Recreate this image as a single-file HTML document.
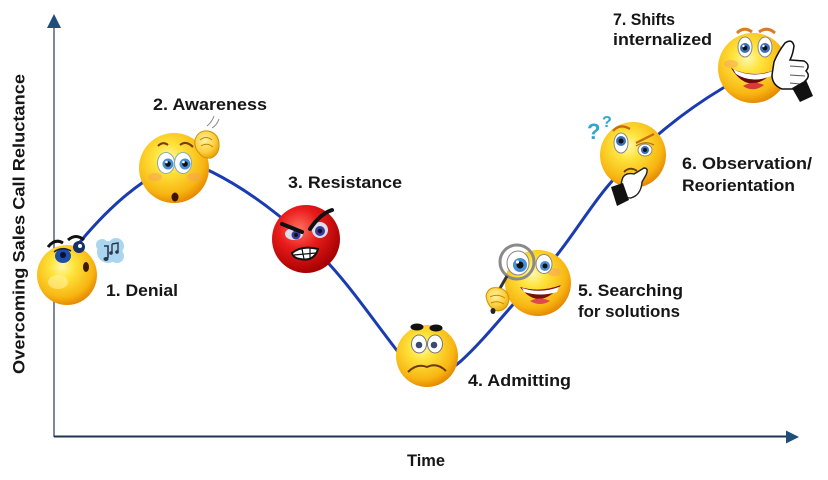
<!DOCTYPE html>
<html><head><meta charset="utf-8"><style>
html,body{margin:0;padding:0;background:#fff;}
svg{display:block;}
text{font-family:"Liberation Sans",Arial,sans-serif;font-weight:bold;fill:#161616;}
</style></head><body>
<svg width="828" height="480" viewBox="0 0 828 480" xmlns="http://www.w3.org/2000/svg">
<defs>
<radialGradient id="yg" cx="0.42" cy="0.36" r="0.66">
<stop offset="0" stop-color="#fff8b0"/><stop offset="0.3" stop-color="#ffe43c"/><stop offset="0.78" stop-color="#f7b512"/><stop offset="1" stop-color="#e58600"/>
</radialGradient>
<radialGradient id="rg" cx="0.4" cy="0.35" r="0.66">
<stop offset="0" stop-color="#ff7060"/><stop offset="0.45" stop-color="#ea1c1c"/><stop offset="1" stop-color="#a60000"/>
</radialGradient>
<radialGradient id="hg" cx="0.4" cy="0.35" r="0.7">
<stop offset="0" stop-color="#fff2a0"/><stop offset="0.6" stop-color="#fcd040"/><stop offset="1" stop-color="#e8a000"/>
</radialGradient>
</defs>
<rect width="828" height="480" fill="#fff"/>

<!-- axes -->
<line x1="54" y1="26" x2="54" y2="437" stroke="#5b6a8a" stroke-width="1.6"/>
<polygon points="54,14 47,28 61,28" fill="#1f4e79"/>
<line x1="54" y1="436.5" x2="788" y2="436.5" stroke="#1f3550" stroke-width="2"/>
<polygon points="799,437 786,430.5 786,443.5" fill="#1f4e79"/>

<!-- curve -->
<path d="M80,242 C100.7,217.2 121.3,197.5 142,183 C154.7,174.1 167.3,163 180,163 C190.7,163 201.3,166.7 212,172 C234,183 256,197.4 278,215 C295.3,228.9 312.7,246 330,265 C351.7,288.8 373.3,319.8 395,348 C406,362.3 417,374 428,374 C439,374 450,370.9 461,361 C477.3,346.3 493.7,326.8 510,308 C525.7,290 541.3,274.6 557,255 C573.7,234.1 590.3,207 607,187 C624.7,165.8 642.3,148 660,133 C681,115.2 702,100.6 723,88 C732.7,82.2 742.3,75.8 752,70" fill="none" stroke="#1a3cb0" stroke-width="3"/>

<!-- 1. Denial -->
<g>
<circle cx="67" cy="275" r="30" fill="url(#yg)"/>
<path d="M48,247 Q55,238 63,243" fill="none" stroke="#111" stroke-width="3"/>
<path d="M68,240 Q76,233 84,240" fill="none" stroke="#111" stroke-width="3"/>
<ellipse cx="63" cy="256" rx="8" ry="7" fill="#1d4fa8"/>
<circle cx="63" cy="255" r="3" fill="#0a1030"/>
<path d="M54,252 Q62,246 71,251" fill="none" stroke="#222" stroke-width="1.6"/>
<ellipse cx="79" cy="247" rx="6" ry="6" fill="#17306a"/>
<circle cx="80" cy="246" r="2" fill="#fff"/>
<ellipse cx="86" cy="267" rx="3" ry="5" fill="#3a1a00"/>
<ellipse cx="58" cy="282" rx="10" ry="7" fill="#fff6b0" opacity="0.5"/>
<!-- music cloud -->
<circle cx="108" cy="252" r="11" fill="#a9d6ee"/>
<circle cx="116" cy="246" r="8" fill="#a9d6ee"/>
<circle cx="102" cy="245" r="6" fill="#a9d6ee"/>
<circle cx="117" cy="256" r="7" fill="#a9d6ee"/>
<path d="M104,246 L108,246 L108,258" fill="none" stroke="#2a3550" stroke-width="1.6"/>
<ellipse cx="106" cy="259" rx="2.5" ry="2" fill="#2a3550"/>
<path d="M112,244 L118,243 L118,251 M112,244 L112,253" fill="none" stroke="#2a3550" stroke-width="1.4"/>
<circle cx="111" cy="253" r="1.8" fill="#2a3550"/><circle cx="117" cy="252" r="1.8" fill="#2a3550"/>
</g>

<!-- 2. Awareness -->
<g>
<circle cx="174" cy="168" r="35" fill="url(#yg)"/>
<ellipse cx="155" cy="177" rx="7" ry="4" fill="#f7a060" opacity="0.5"/>
<ellipse cx="194" cy="177" rx="7" ry="4" fill="#f7a060" opacity="0.5"/>
<path d="M158,146 Q163,141 168,145" fill="none" stroke="#7a3a10" stroke-width="2"/>
<path d="M180,145 Q186,140 193,147" fill="none" stroke="#7a3a10" stroke-width="2"/>
<ellipse cx="166" cy="163" rx="8.5" ry="10.5" fill="#fff" stroke="#8aa" stroke-width="1"/>
<ellipse cx="183" cy="163" rx="8.5" ry="10.5" fill="#fff" stroke="#8aa" stroke-width="1"/>
<circle cx="168" cy="164" r="5.5" fill="#4a8ed6"/><circle cx="185" cy="164" r="5.5" fill="#4a8ed6"/>
<circle cx="168" cy="164" r="2.8" fill="#111"/><circle cx="185" cy="164" r="2.8" fill="#111"/>
<circle cx="166.5" cy="162" r="1.3" fill="#fff"/><circle cx="183.5" cy="162" r="1.3" fill="#fff"/>
<ellipse cx="175" cy="197" rx="3.5" ry="4.5" fill="#3a1400"/>
<!-- hand -->
<path d="M195,140 Q198,130 208,131 Q218,133 219,143 Q220,154 211,158 Q203,159 199,153 Q194,148 195,140 Z" fill="url(#hg)" stroke="#d39000" stroke-width="1"/>
<path d="M200,140 Q206,135 212,140 M201,146 Q207,142 213,147" fill="none" stroke="#c88400" stroke-width="1"/>
<path d="M207,126 Q212,122 214,116 M212,128 Q217,125 219,119" fill="none" stroke="#888" stroke-width="1"/>
</g>

<!-- 3. Resistance -->
<g>
<circle cx="306" cy="239" r="34" fill="url(#rg)"/>
<ellipse cx="294" cy="234" rx="9" ry="6" fill="#dde" />
<ellipse cx="320" cy="230" rx="8" ry="8" fill="#dde"/>
<circle cx="296" cy="235" r="4.5" fill="#3a3aa0"/><circle cx="320" cy="231" r="5" fill="#3a3aa0"/>
<circle cx="296" cy="235" r="2" fill="#111"/><circle cx="320" cy="231" r="2.2" fill="#111"/>
<path d="M282,224 L302,232" stroke="#111" stroke-width="4" stroke-linecap="round"/>
<path d="M310,229 Q320,214 332,210" fill="none" stroke="#111" stroke-width="4" stroke-linecap="round"/>
<path d="M292,253 Q302,245 318,249 Q314,262 300,259 Q293,258 292,253 Z" fill="#fff" stroke="#111" stroke-width="2"/>
<path d="M294,255 L316,253 M302,249 L304,259 M310,248 L310,260" stroke="#111" stroke-width="1.2"/>
</g>

<!-- 4. Admitting -->
<g>
<circle cx="427" cy="356" r="31" fill="url(#yg)"/>
<ellipse cx="417" cy="327" rx="6.5" ry="3.5" fill="#111"/>
<ellipse cx="436" cy="328" rx="6.5" ry="3.5" fill="#111"/>
<ellipse cx="419" cy="344" rx="7.5" ry="9" fill="#fff" stroke="#777" stroke-width="1"/>
<ellipse cx="435" cy="344" rx="7.5" ry="9" fill="#fff" stroke="#777" stroke-width="1"/>
<circle cx="419" cy="345" r="3.3" fill="#3b4a70"/><circle cx="434" cy="345" r="3.3" fill="#3b4a70"/>
<path d="M408,372 Q417,363 427,367 Q437,362 446,371" fill="none" stroke="#6a3a10" stroke-width="2"/>
</g>

<!-- 5. Searching -->
<g>
<circle cx="538" cy="283" r="33" fill="url(#yg)"/>
<ellipse cx="554" cy="272" rx="7" ry="4" fill="#f7a060" opacity="0.5"/>
<ellipse cx="544" cy="264" rx="8" ry="9.5" fill="#fff" stroke="#888" stroke-width="1"/>
<circle cx="545" cy="266" r="5" fill="#4a8ed6"/><circle cx="545" cy="266" r="2.5" fill="#111"/>
<ellipse cx="518" cy="263" rx="11" ry="12" fill="#fff" stroke="#888" stroke-width="1"/>
<circle cx="520" cy="265" r="7" fill="#4a8ed6"/><circle cx="520" cy="265" r="3.5" fill="#111"/>
<circle cx="517.5" cy="262" r="1.6" fill="#fff"/>
<circle cx="517" cy="262" r="17" fill="none" stroke="#8a8a8a" stroke-width="3"/>
<path d="M507,276 L499,290" stroke="#333" stroke-width="3"/>
<path d="M520,287 Q539,312 561,285 Q540,293 520,287 Z" fill="#7a0f0f"/>
<path d="M522,288 Q540,294 559,287 L557,292 Q540,297 524,292 Z" fill="#fff"/>
<path d="M530,301 Q540,296 550,301 Q540,307 530,301 Z" fill="#e0484a"/>
<path d="M486,296 Q488,286 499,288 Q508,290 509,299 Q508,310 498,311 Q488,309 486,296 Z" fill="url(#hg)" stroke="#d39000" stroke-width="1"/>
<path d="M490,297 Q497,293 505,298 M491,303 Q497,300 504,304" fill="none" stroke="#c88400" stroke-width="1"/>
<ellipse cx="493" cy="311" rx="2.5" ry="3" fill="#222"/>
</g>

<!-- 6. Observation -->
<g>
<circle cx="633" cy="155" r="33" fill="url(#yg)"/>
<path d="M613,131 Q620,123 630,129" fill="none" stroke="#c86a10" stroke-width="2.2"/>
<path d="M636,143 L654,134" fill="none" stroke="#c86a10" stroke-width="2.2"/>
<ellipse cx="621" cy="143" rx="7" ry="10" fill="#fff" stroke="#888" stroke-width="1"/>
<circle cx="621" cy="141" r="5" fill="#3a6fb8"/><circle cx="621" cy="141" r="2.5" fill="#111"/>
<ellipse cx="645" cy="150" rx="7" ry="6" fill="#fff" stroke="#888" stroke-width="1"/>
<circle cx="645" cy="150" r="4" fill="#3a6fb8"/><circle cx="645" cy="150" r="2" fill="#111"/>
<path d="M636,146 Q645,140 654,145" fill="none" stroke="#b87010" stroke-width="1.3"/>
<path d="M624,172 Q630,166 637,171" fill="none" stroke="#6a3a10" stroke-width="1.8"/>
<path d="M622,180 Q624,172 634,174 L644,168 Q649,168 646,175 L642,182 Q641,195 631,198 Q622,198 620,190 Z" fill="#fff" stroke="#222" stroke-width="1.4"/>
<path d="M611,187 L623,183 L629,200 L617,206 Z" fill="#111"/>
<text x="587" y="139" style="fill:#2fa6cf;font-size:22px">?</text>
<text x="602" y="127" style="fill:#2fa6cf;font-size:16px">?</text>
</g>

<!-- 7. Shifts internalized -->
<g>
<circle cx="753" cy="68" r="35" fill="url(#yg)"/>
<ellipse cx="731" cy="64" rx="7" ry="4" fill="#f7a060" opacity="0.5"/>
<path d="M737,33 Q744,26 752,32" fill="none" stroke="#e07a20" stroke-width="3"/>
<path d="M759,32 Q767,26 775,33" fill="none" stroke="#e07a20" stroke-width="3"/>
<ellipse cx="745" cy="47" rx="7" ry="10" fill="#fff" stroke="#888" stroke-width="1"/>
<ellipse cx="765" cy="47" rx="7" ry="10" fill="#fff" stroke="#888" stroke-width="1"/>
<circle cx="745" cy="48" r="5" fill="#3a6fb8"/><circle cx="765" cy="48" r="5" fill="#3a6fb8"/>
<circle cx="745" cy="48" r="2.4" fill="#111"/><circle cx="765" cy="48" r="2.4" fill="#111"/>
<circle cx="743.5" cy="46" r="1.2" fill="#fff"/><circle cx="763.5" cy="46" r="1.2" fill="#fff"/>
<path d="M731,68 Q750,98 775,70 Q752,79 731,68 Z" fill="#6a0a0a"/>
<path d="M733,69 Q752,79 773,71 L771,76 Q752,84 736,74 Z" fill="#fff"/>
<path d="M743,86 Q753,80 764,85 Q753,93 743,86 Z" fill="#d83a3a"/>
<path d="M774,62 Q778,52 785,43 Q792,38 794,46 Q793,54 790,60 L804,61 Q811,65 806,71 Q811,76 805,81 Q807,88 799,89 L782,89 Q772,85 772,75 Z" fill="#fff" stroke="#111" stroke-width="1.5"/>
<path d="M790,66 L804,67 M790,75 L805,76 M790,83 L800,84" stroke="#555" stroke-width="1"/>
<path d="M792,88 L806,80 L813,96 L800,102 Z" fill="#111"/>
</g>

<!-- labels -->
<text x="106" y="296" font-size="17" textLength="72" lengthAdjust="spacingAndGlyphs">1. Denial</text>
<text x="153" y="110" font-size="17" textLength="114" lengthAdjust="spacingAndGlyphs">2. Awareness</text>
<text x="288" y="188" font-size="17" textLength="114" lengthAdjust="spacingAndGlyphs">3. Resistance</text>
<text x="468" y="386" font-size="17" textLength="103" lengthAdjust="spacingAndGlyphs">4. Admitting</text>
<text x="578" y="296" font-size="17" textLength="105" lengthAdjust="spacingAndGlyphs">5. Searching</text>
<text x="578" y="317" font-size="17" textLength="102" lengthAdjust="spacingAndGlyphs">for solutions</text>
<text x="682" y="169" font-size="17" textLength="130" lengthAdjust="spacingAndGlyphs">6. Observation/</text>
<text x="682" y="191" font-size="17" textLength="113" lengthAdjust="spacingAndGlyphs">Reorientation</text>
<text x="613" y="25" font-size="17" textLength="62" lengthAdjust="spacingAndGlyphs">7. Shifts</text>
<text x="613" y="45" font-size="17" textLength="99" lengthAdjust="spacingAndGlyphs">internalized</text>
<text x="407" y="466" font-size="17" textLength="38" lengthAdjust="spacingAndGlyphs">Time</text>
<text transform="translate(24.5,224) rotate(-90)" x="0" y="0" text-anchor="middle" font-size="17" textLength="300" lengthAdjust="spacingAndGlyphs">Overcoming Sales Call Reluctance</text>
</svg>
</body></html>
